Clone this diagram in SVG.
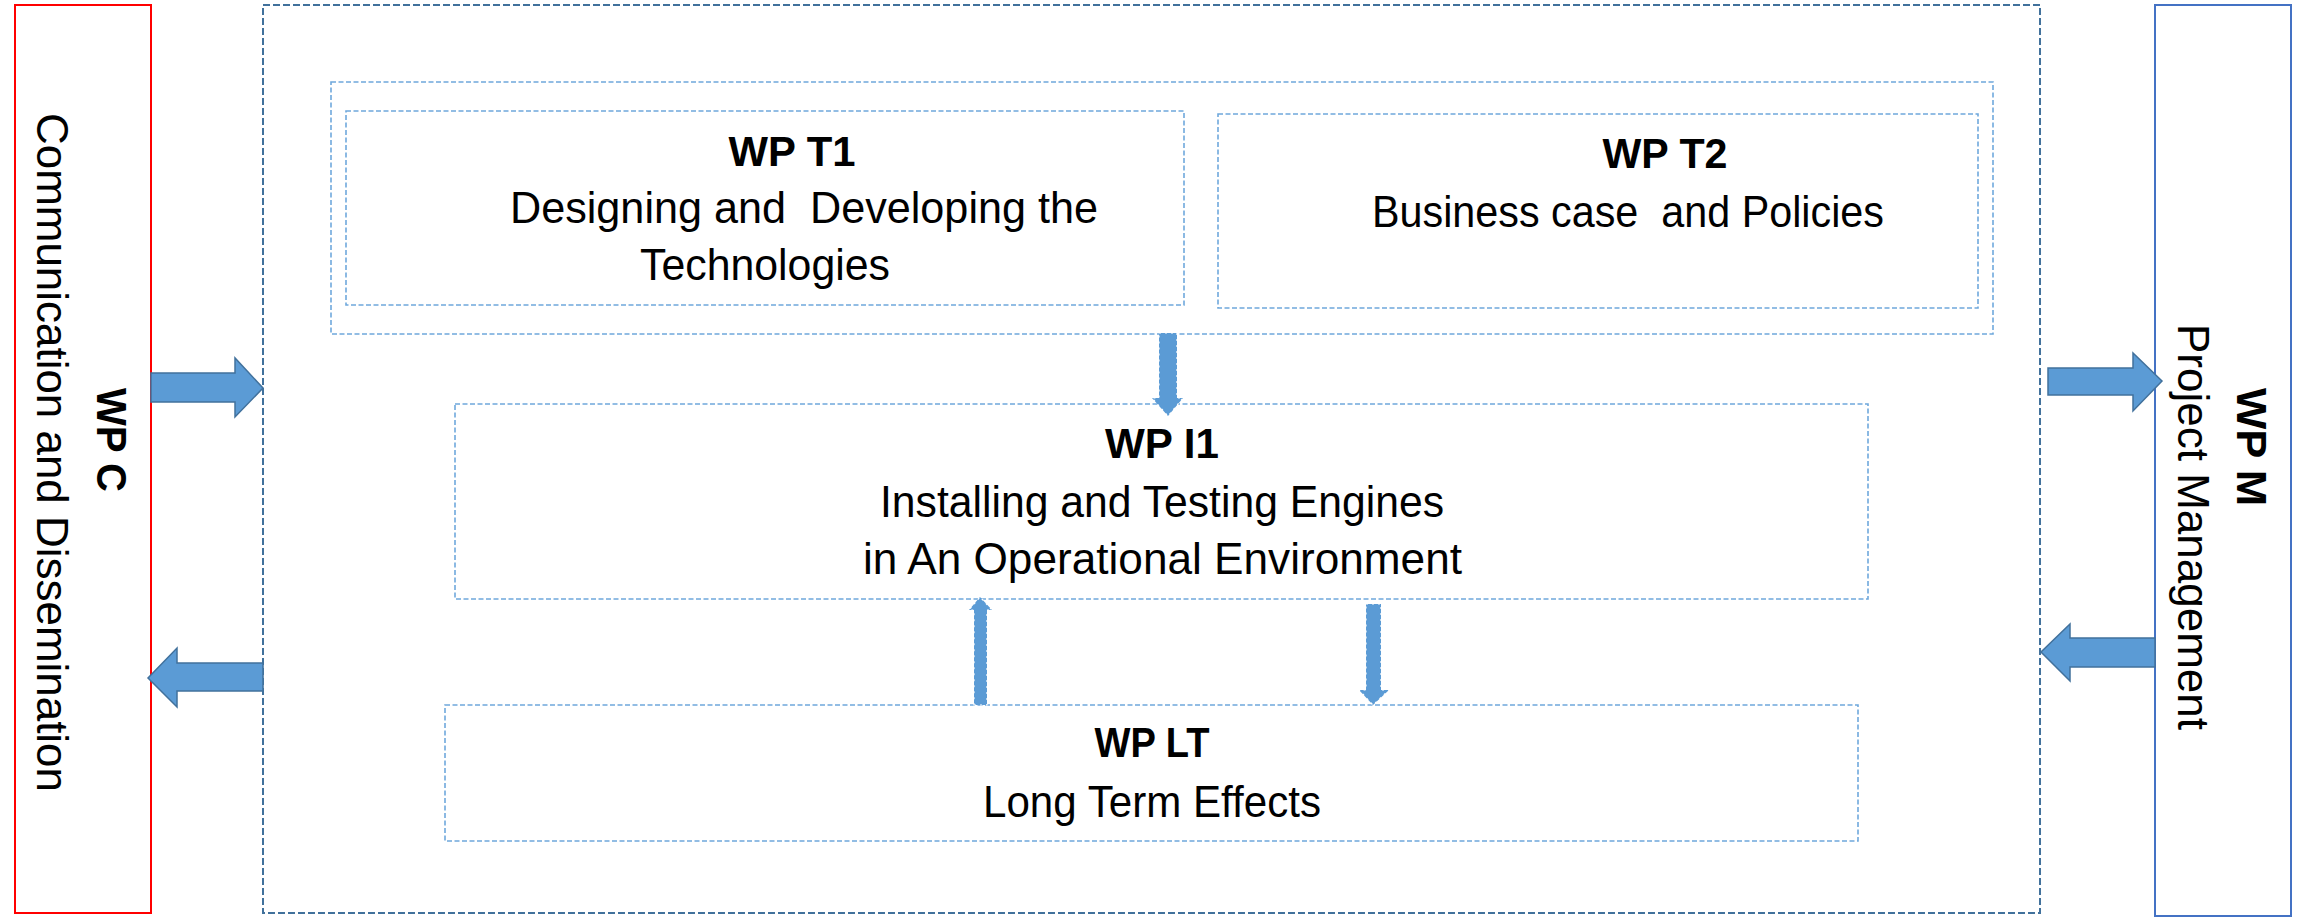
<svg xmlns="http://www.w3.org/2000/svg" width="2306" height="923" viewBox="0 0 2306 923">
<style>
  text { font-family: "Liberation Sans", Arial, sans-serif; font-size: 44px; fill: #000; white-space: pre; }
  .b { font-weight: bold; font-size: 43px; }
  .box { fill: none; stroke: #6fa8dc; stroke-width: 1.6; stroke-dasharray: 5 2.5; }
  .outer { fill: none; stroke: #41719c; stroke-width: 2; stroke-dasharray: 7 3; }
  .harrow { fill: #5b9bd5; stroke: #41719c; stroke-width: 1.5; stroke-linejoin: miter; }
  .varrow { fill: #5b9bd5; stroke: #ffffff; stroke-width: 1.2; stroke-dasharray: 2 4; }
</style>
<rect width="2306" height="923" fill="#ffffff"/>

<g id="wp-c">
  <rect x="15" y="5" width="136" height="908" fill="none" stroke="#ff0000" stroke-width="2"/>
  <text class="b" text-anchor="middle" transform="translate(97,440) rotate(90)" textLength="104" lengthAdjust="spacingAndGlyphs">WP C</text>
  <text text-anchor="middle" transform="translate(37,452.5) rotate(90)" textLength="679" lengthAdjust="spacingAndGlyphs">Communication and Dissemination</text>
</g>

<g id="wp-m">
  <rect x="2155" y="5" width="136" height="911" fill="none" stroke="#4472c4" stroke-width="2"/>
  <text class="b" text-anchor="middle" transform="translate(2237,447) rotate(90)" textLength="118" lengthAdjust="spacingAndGlyphs">WP M</text>
  <text text-anchor="middle" transform="translate(2178,527) rotate(90)" textLength="406" lengthAdjust="spacingAndGlyphs">Project Management</text>
</g>

<g id="core">
  <rect class="outer" x="263" y="5" width="1777" height="908"/>
</g>

<g id="tech-group">
  <rect class="box" x="331" y="82" width="1662" height="252"/>
</g>

<g id="wp-t1">
  <rect class="box" x="346" y="111" width="838" height="194"/>
  <text class="b" x="792" y="166" text-anchor="middle" textLength="127" lengthAdjust="spacingAndGlyphs">WP T1</text>
  <text x="804" y="223" text-anchor="middle" textLength="588" lengthAdjust="spacingAndGlyphs">Designing and  Developing the</text>
  <text x="765" y="280" text-anchor="middle" textLength="250" lengthAdjust="spacingAndGlyphs">Technologies</text>
</g>

<g id="wp-t2">
  <rect class="box" x="1218" y="114" width="760" height="194"/>
  <text class="b" x="1665" y="168" text-anchor="middle" textLength="125" lengthAdjust="spacingAndGlyphs">WP T2</text>
  <text x="1628" y="227" text-anchor="middle" textLength="512" lengthAdjust="spacingAndGlyphs">Business case  and Policies</text>
</g>

<g id="wp-i1">
  <rect class="box" x="455" y="404" width="1413" height="195"/>
  <text class="b" x="1162" y="458" text-anchor="middle" textLength="114" lengthAdjust="spacingAndGlyphs">WP I1</text>
  <text x="1162" y="517" text-anchor="middle" textLength="564" lengthAdjust="spacingAndGlyphs">Installing and Testing Engines</text>
  <text x="1162.5" y="574" text-anchor="middle" textLength="599" lengthAdjust="spacingAndGlyphs">in An Operational Environment</text>
</g>

<g id="wp-lt">
  <rect class="box" x="445" y="705" width="1413" height="136"/>
  <text class="b" x="1152" y="757" text-anchor="middle" textLength="115" lengthAdjust="spacingAndGlyphs">WP LT</text>
  <text x="1152" y="817" text-anchor="middle" textLength="338" lengthAdjust="spacingAndGlyphs">Long Term Effects</text>
</g>

<g id="connectors">
  <polygon class="harrow" points="151,373 235,373 235,358 263,388 235,417 235,402 151,402"/>
  <polygon class="harrow" points="263,663 177,663 177,648 148,678 177,707 177,691 263,691"/>
  <polygon class="harrow" points="2048,368 2133,368 2133,353 2162,381 2133,411 2133,395 2048,395"/>
  <polygon class="harrow" points="2155,638 2070,638 2070,624 2041,652 2070,681 2070,667 2155,667"/>
  <polygon class="varrow" points="1159,333 1177,333 1177,398 1183,398 1168,416 1152,398 1159,398"/>
  <polygon class="varrow" points="974,705 987,705 987,610 992,610 980,597 969,610 974,610"/>
  <polygon class="varrow" points="1366,604 1381,604 1381,690 1389,690 1373,705 1359,690 1366,690"/>
</g>
</svg>
